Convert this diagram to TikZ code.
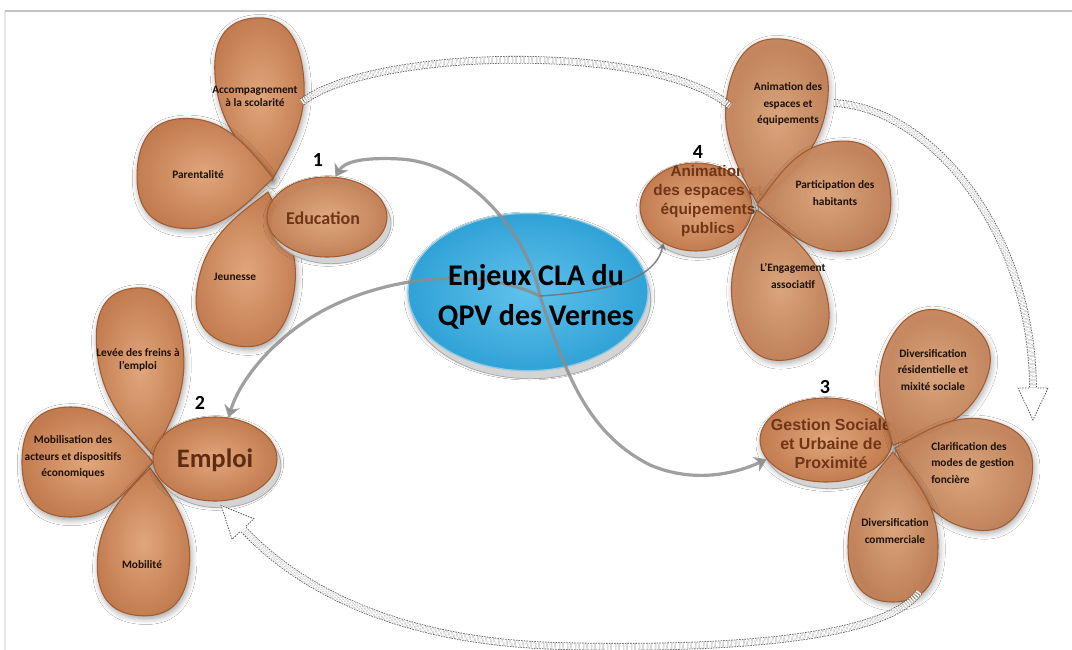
\documentclass[tikz,border=0pt]{standalone}
\usepackage{fontspec}
\setmainfont{Carlito}
\newfontfamily\arialfont{Liberation Sans}
\usetikzlibrary{shapes.geometric,arrows.meta,shadows,shadows.blur}

\definecolor{petalin}{RGB}{224,166,122}
\definecolor{petalout}{RGB}{194,124,80}
\definecolor{petaledge}{RGB}{160,92,50}
\definecolor{petaltext}{RGB}{30,16,6}
\definecolor{hubtext}{RGB}{112,52,22}
\definecolor{bluein}{RGB}{96,194,236}
\definecolor{blueout}{RGB}{48,162,214}
\definecolor{blueedge}{RGB}{140,200,228}
\definecolor{basegray}{RGB}{212,212,212}
\definecolor{baseedge}{RGB}{170,170,170}
\definecolor{spokegray}{RGB}{140,140,140}
\definecolor{bandgray}{RGB}{90,90,90}
\definecolor{frametop}{RGB}{195,195,195}
\definecolor{frameleft}{RGB}{232,232,232}

\begin{document}
\begin{tikzpicture}[x=0.75pt, y=-0.75pt,
  petalbody/.style={draw=petaledge, line width=0.8pt,
    inner color=petalin, outer color=petalout,
    blur shadow={shadow xshift=1pt, shadow yshift=-2pt, shadow blur radius=4.5pt,
                 shadow opacity=40, shadow blur steps=7}},
  pics/petal/.style 2 args={code={
    \path[petalbody] (0,0)
      .. controls (0.2*#1,0.55*#2) and (0.36*#1,#2) .. (0.63*#1,#2)
      .. controls (0.9*#1,#2) and (#1,0.6*#2) .. (#1,0)
      .. controls (#1,-0.6*#2) and (0.9*#1,-#2) .. (0.63*#1,-#2)
      .. controls (0.36*#1,-#2) and (0.2*#1,-0.55*#2) .. cycle;
  }},
  hubell/.style={ellipse, inner sep=0pt, draw=petaledge, line width=0.8pt,
    inner color=petalin, outer color=petalout,
    blur shadow={shadow xshift=1pt, shadow yshift=-3pt, shadow blur radius=4pt,
                 shadow opacity=35, shadow blur steps=6},
    general shadow={fill=basegray, draw=baseedge, line width=0.6pt,
                    shadow xshift=3pt, shadow yshift=-5pt}},
  hublabel/.style={text=hubtext, align=center, inner sep=0pt},
  ptext/.style={text=petaltext, align=center, inner sep=0pt,
    font=\bfseries\fontsize{8.5}{12.4}\selectfont},
  numlab/.style={inner sep=0pt, font=\bfseries\fontsize{15}{18}\selectfont},
  spoke/.style={draw=spokegray, line width=2.4pt, opacity=.82,
    -{Stealth[length=9pt, width=12pt]}},
  spokethin/.style={draw=spokegray!80!black, line width=1.1pt, opacity=.85,
    -{Stealth[length=5pt, width=6pt]}},
  band/.style={draw=bandgray, double=white, double distance=4.5pt, line width=0.6pt,
    dash pattern=on 1.1pt off 0.9pt},
  bandhead/.style={draw=bandgray, fill=white, line width=0.6pt,
    dash pattern=on 1.1pt off 0.9pt, line join=miter}
]
\useasboundingbox (0,0) rectangle (1072,650);
\fill[white] (0,0) rectangle (1072,650);
\draw[frameleft, line width=1pt] (5,11) -- (5,650);
\draw[frametop, line width=1pt] (5,11) -- (1072,11);

% ---- 1 : Education ----
\pic[rotate=97]  at (272,180) {petal={163}{44}};
\pic[rotate=177] at (273,178) {petal={136}{55}};
\pic[rotate=257] at (268,192) {petal={157}{48}};
\node[ptext] (acc) at (255,96) {Accompagnement\\[-2.5pt]à la scolarité};
\node[ptext] (par) at (198,175) {Parentalité};
\node[ptext] (jeu) at (235,277) {Jeunesse};
\node[hubell, minimum width=90pt, minimum height=60pt, fill opacity=.93] (edu) at (327,217) {};
\node[hublabel, font=\bfseries\fontsize{13.5}{16}\selectfont] (edut) at (323,218) {Education};
\node[numlab] (n1) at (318,160) {1};

% ---- 2 : Emploi ----
\pic[rotate=97]  at (153,455) {petal={168}{43}};
\pic[rotate=180] at (153,462) {petal={131}{55}};
\pic[rotate=266] at (150,468) {petal={148}{46}};
\node[ptext, font=\bfseries\fontsize{8.5}{9.5}\selectfont] (lev) at (138,360) {Levée des freins à\\l'emploi};
\node[ptext] (mob) at (73,457) {Mobilisation des\\acteurs et dispositifs\\économiques};
\node[ptext] (mobi) at (142,565) {Mobilité};
\node[hubell, minimum width=93pt, minimum height=63pt] (emp) at (215,459) {};
\node[hublabel, font=\bfseries\fontsize{20}{22}\selectfont, text=hubtext!85!black] (empt) at (215,460) {Emploi};
\node[numlab] (n2) at (200,403) {2};

% ---- 4 : Animation ----
\node[hubell, minimum width=84pt, minimum height=66pt] (ani) at (696,207) {};
\node[hublabel, font=\arialfont\bfseries\fontsize{11.5}{14.3}\selectfont] (anit) at (708,201)
  {Animation\\des espaces et\\équipements\\publics};
\node[numlab] (n4) at (698,152) {4};
\begin{scope}[fill opacity=.9]
\pic[rotate=79]  at (757,203) {petal={166}{50}};
\pic[rotate=6]   at (757,205) {petal={134}{55}};
\pic[rotate=284] at (757,210) {petal={153}{47}};
\end{scope}
\node[ptext] (anip) at (788,104) {Animation des\\espaces et\\équipements};
\node[ptext] (part) at (835,193) {Participation des\\habitants};
\node[ptext] (eng) at (793,276) {L'Engagement\\associatif};

% ---- 3 : Gestion ----
\node[hubell, minimum width=99pt, minimum height=63pt] (ges) at (826,440) {};
\node[hublabel, font=\arialfont\bfseries\fontsize{12}{14.3}\selectfont] (gest) at (831,444)
  {Gestion Sociale\\et Urbaine de\\Proximité};
\node[numlab] (n3) at (825,387) {3};
\begin{scope}[fill opacity=.9]
\pic[rotate=62]    at (893,445) {petal={144}{52}};
\pic[rotate=-17.5] at (895,448) {petal={140}{55}};
\pic[rotate=270]   at (893,452) {petal={150}{45}};
\end{scope}
\node[ptext] (divr) at (933,370) {Diversification\\résidentielle et\\mixité sociale};
\node[ptext, align=left, anchor=west] (clar) at (931,463) {Clarification des\\modes de gestion\\foncière};
\node[ptext] (divc) at (895,531) {Diversification\\commerciale};

% ---- centre ----
\node[ellipse, inner sep=0pt, minimum width=180pt, minimum height=118pt,
      draw=blueedge, line width=1pt, inner color=bluein, outer color=blueout,
      blur shadow={shadow xshift=1pt, shadow yshift=-3pt, shadow blur radius=4pt,
                   shadow opacity=35, shadow blur steps=6},
      general shadow={fill=basegray, draw=baseedge, line width=0.6pt,
                      shadow xshift=2pt, shadow yshift=-6pt}] (cen) at (528,292) {};
\coordinate (hub) at (540,296);

% spokes from the centre to the four themes
\draw[spoke] (hub) .. controls (528,235) and (470,163) .. (400,159)
                   .. controls (362,157) and (344,162) .. (edu.78);
\draw[spoke] (hub) .. controls (470,262) and (362,280) .. (300,325)
                   .. controls (262,352) and (238,386) .. (emp.72);
\draw[spoke] (hub) .. controls (565,370) and (585,432) .. (650,465)
                   .. controls (690,482) and (730,476) .. (ges.198);
\draw[spokethin] (hub) .. controls (600,292) and (655,282) .. (ani.228);

\node[font=\bfseries\fontsize{22.5}{30}\selectfont, align=center, inner sep=0pt] (cent) at (536,297)
  {Enjeux CLA du\\QPV des Vernes};

% ---- dotted links between the themes ----
\coordinate (bt1) at (302,102);
\coordinate (bt2) at (730,106);
\draw[band] (bt1) .. controls (372,48) and (655,42) .. (bt2);

\coordinate (br1) at (834,103);
\coordinate (br2) at (1033,388);
\draw[band] (br1) .. controls (930,108) and (1032,230) .. (br2);
\draw[bandhead, shift={(br2)}, rotate=-90] (0,4) -- (0,15) -- (32,0) -- (0,-15) -- (0,-4);

\coordinate (bb1) at (919,592);
\coordinate (bb2) at (243,529);
\draw[band] (bb1) .. controls (885,640) and (720,650) .. (560,646)
                  .. controls (400,642) and (300,590) .. (bb2);
\draw[bandhead, shift={(bb2)}, rotate=133] (0,4) -- (0,15) -- (32,0) -- (0,-15) -- (0,-4);
\end{tikzpicture}
\end{document}
